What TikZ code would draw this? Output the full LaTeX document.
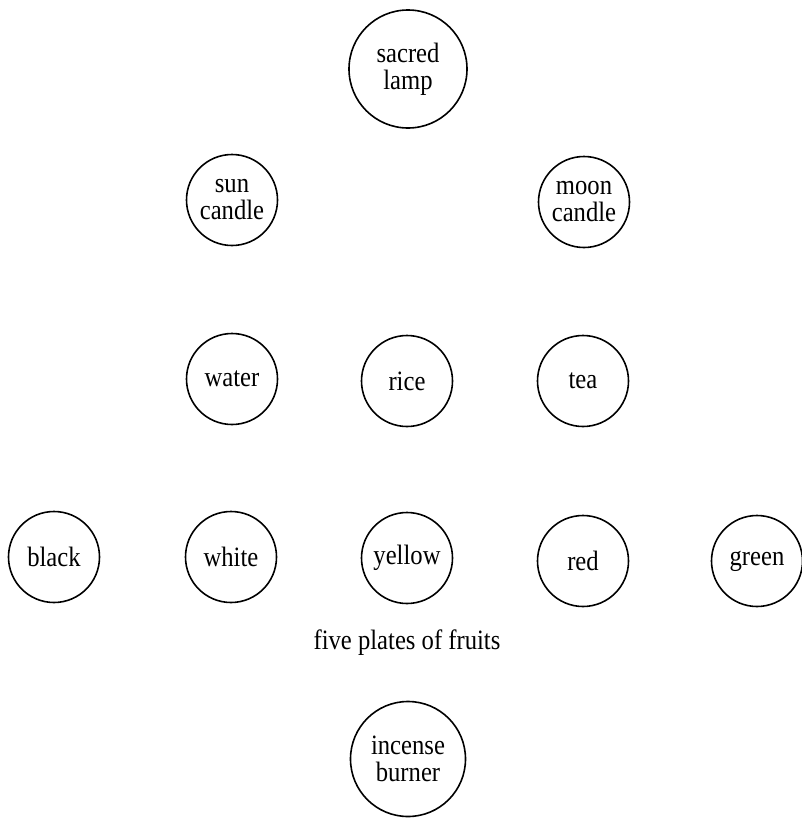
\documentclass[tikz,border=0pt]{standalone}
\usepackage{fontspec}
\setmainfont[FakeStretch=0.88]{Liberation Serif}
\begin{document}
\begin{tikzpicture}[x=1pt,y=-1pt,
  lbl/.style={font=\fontsize{28}{27}\selectfont, align=center},
  small/.style={circle, draw, line width=1.6pt, inner sep=0pt, minimum size=91pt, lbl},
  big/.style={circle, draw, line width=1.6pt, inner sep=0pt, minimum size=118pt, lbl}]
\useasboundingbox (0,0) rectangle (801,819);
\node[big] (lamp) at (408,69) {sacred\\lamp};
\node[small] (sun) at (232,200) {sun\\candle};
\node[small] (moon) at (584,202) {moon\\candle};
\node[small] (water) at (232,379) {water};
\node[small] (rice) at (407,381) {rice};
\node[small] (tea) at (583,381) {tea};
\node[small] (black) at (54,557) {black};
\node[small] (white) at (231,557) {white};
\node[small] (yellow) at (407,558) {yellow};
\node[small] (red) at (583,561) {red};
\node[small] (green) at (757,561) {green};
\node[lbl] (fruits) at (407,643) {five plates of fruits};
\node[big, minimum size=115pt] (incense) at (408,759) {incense\\burner};
\end{tikzpicture}
\end{document}
